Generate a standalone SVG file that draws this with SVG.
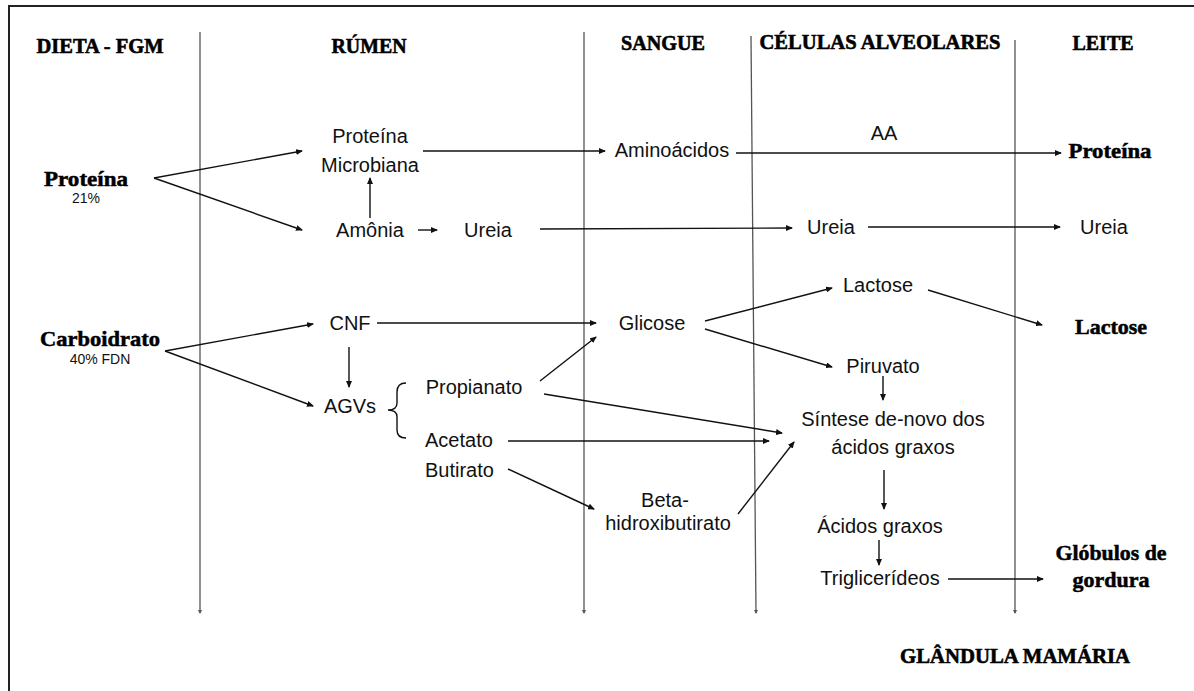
<svg xmlns="http://www.w3.org/2000/svg" width="1194" height="691" viewBox="0 0 1194 691">
<style>
.h{font-family:"Liberation Serif","Times New Roman",serif;font-weight:bold;font-size:21px;fill:#000;stroke:#000;stroke-width:0.6;text-anchor:middle}
.b{font-family:"Liberation Serif","Times New Roman",serif;font-weight:bold;font-size:21px;fill:#000;stroke:#000;stroke-width:0.5;text-anchor:middle}
.t{font-family:"Liberation Sans",Arial,sans-serif;font-size:20px;fill:#111;text-anchor:middle}
.s{font-family:"Liberation Sans",Arial,sans-serif;font-size:14px;fill:#111;text-anchor:middle}
.c{stroke:#111;stroke-width:1.4;fill:none;marker-end:url(#ah)}
.v{stroke:#555;stroke-width:1.3;fill:none;marker-end:url(#vh)}
</style>
<defs>
<marker id="ah" markerUnits="userSpaceOnUse" markerWidth="7" markerHeight="6" refX="6" refY="3" orient="auto"><path d="M0,0 L7,3 L0,6 z" fill="#111"/></marker>
<marker id="vh" markerUnits="userSpaceOnUse" markerWidth="4" markerHeight="4" refX="3" refY="2" orient="auto"><path d="M0,0 L4,2 L0,4 z" fill="#555"/></marker>
</defs>
<rect width="1194" height="691" fill="#fff"/>
<g id="frame" stroke="#222" stroke-width="2" fill="none">
<path d="M9,691 L9,6 L1194,6"/>
</g>
<g id="columns">
<path class="v" d="M200,32 L200,613"/>
<path class="v" d="M584,32 L584,613"/>
<path class="v" d="M751,36 L756,613"/>
<path class="v" d="M1015,40 L1015,613"/>
</g>
<g id="headers">
<text class="h" x="100" y="53" textLength="127" lengthAdjust="spacingAndGlyphs">DIETA - FGM</text>
<text class="h" x="369" y="53" textLength="75" lengthAdjust="spacingAndGlyphs">RÚMEN</text>
<text class="h" x="663" y="50" textLength="84" lengthAdjust="spacingAndGlyphs">SANGUE</text>
<text class="h" x="880" y="49" textLength="241" lengthAdjust="spacingAndGlyphs">CÉLULAS ALVEOLARES</text>
<text class="h" x="1103" y="50" textLength="61" lengthAdjust="spacingAndGlyphs">LEITE</text>
<text class="h" x="1015" y="663" textLength="230" lengthAdjust="spacingAndGlyphs">GLÂNDULA MAMÁRIA</text>
</g>
<g id="connectors">
<path class="c" d="M154,178 L302,151"/>
<path class="c" d="M154,178 L302,230"/>
<path class="c" d="M423,151 L605,151"/>
<path class="c" d="M736,153 L1061,153"/>
<path class="c" d="M370,218 L370,178"/>
<path class="c" d="M418,230 L437,230"/>
<path class="c" d="M540,229 L792,228"/>
<path class="c" d="M868,227 L1060,227"/>
<path class="c" d="M165,351 L313,324"/>
<path class="c" d="M165,351 L313,406"/>
<path class="c" d="M377,323 L596,323"/>
<path class="c" d="M349,347 L349,387"/>
<path class="c" d="M540,381 L596,337"/>
<path class="c" d="M544,394 L782,433"/>
<path class="c" d="M508,441 L769,441"/>
<path class="c" d="M508,469 L594,509"/>
<path class="c" d="M738,514 L794,442"/>
<path class="c" d="M705,321 L832,288"/>
<path class="c" d="M928,290 L1042,325"/>
<path class="c" d="M705,329 L832,367"/>
<path class="c" d="M883,376 L883,400"/>
<path class="c" d="M884,470 L884,509"/>
<path class="c" d="M879,540 L879,565"/>
<path class="c" d="M948,579 L1043,579"/>
<path d="M406,383 Q397,383 397,392 L397,403 Q397,410 388,410 Q397,410 397,417 L397,430 Q397,438 406,438" stroke="#111" stroke-width="1.4" fill="none"/>
</g>
<g id="n-proteina-dieta"><text class="b" x="86" y="186" textLength="84" lengthAdjust="spacingAndGlyphs">Proteína</text><text class="s" x="86" y="203">21%</text></g>
<g id="n-carboidrato"><text class="b" x="100" y="346" textLength="120" lengthAdjust="spacingAndGlyphs">Carboidrato</text><text class="s" x="100" y="364">40% FDN</text></g>
<g id="n-proteina-microbiana"><text class="t" x="370" y="143">Proteína</text><text class="t" x="370" y="172">Microbiana</text></g>
<g id="n-amonia"><text class="t" x="370" y="237">Amônia</text></g>
<g id="n-ureia-rumen"><text class="t" x="488" y="237">Ureia</text></g>
<g id="n-cnf"><text class="t" x="350" y="330">CNF</text></g>
<g id="n-agvs"><text class="t" x="350" y="413">AGVs</text></g>
<g id="n-propianato"><text class="t" x="474" y="394">Propianato</text></g>
<g id="n-acetato"><text class="t" x="425" y="447" style="text-anchor:start">Acetato</text></g>
<g id="n-butirato"><text class="t" x="425" y="477" style="text-anchor:start">Butirato</text></g>
<g id="n-aminoacidos"><text class="t" x="672" y="157">Aminoácidos</text></g>
<g id="n-aa"><text class="t" x="884" y="140">AA</text></g>
<g id="n-ureia-sangue"><text class="t" x="831" y="234">Ureia</text></g>
<g id="n-glicose"><text class="t" x="652" y="330">Glicose</text></g>
<g id="n-beta"><text class="t" x="665" y="507">Beta-</text><text class="t" x="668" y="530">hidroxibutirato</text></g>
<g id="n-lactose-cel"><text class="t" x="878" y="292">Lactose</text></g>
<g id="n-piruvato"><text class="t" x="883" y="373">Piruvato</text></g>
<g id="n-sintese"><text class="t" x="893" y="426">Síntese de-novo dos</text><text class="t" x="893" y="454">ácidos graxos</text></g>
<g id="n-acidos-graxos"><text class="t" x="880" y="533">Ácidos graxos</text></g>
<g id="n-triglicerideos"><text class="t" x="880" y="585">Triglicerídeos</text></g>
<g id="n-proteina-leite"><text class="b" x="1110" y="158" textLength="83" lengthAdjust="spacingAndGlyphs">Proteína</text></g>
<g id="n-ureia-leite"><text class="t" x="1104" y="234">Ureia</text></g>
<g id="n-lactose-leite"><text class="b" x="1111" y="334" textLength="72" lengthAdjust="spacingAndGlyphs">Lactose</text></g>
<g id="n-globulos"><text class="b" x="1111" y="560" textLength="111" lengthAdjust="spacingAndGlyphs">Glóbulos de</text><text class="b" x="1111" y="587" textLength="77" lengthAdjust="spacingAndGlyphs">gordura</text></g>
</svg>
